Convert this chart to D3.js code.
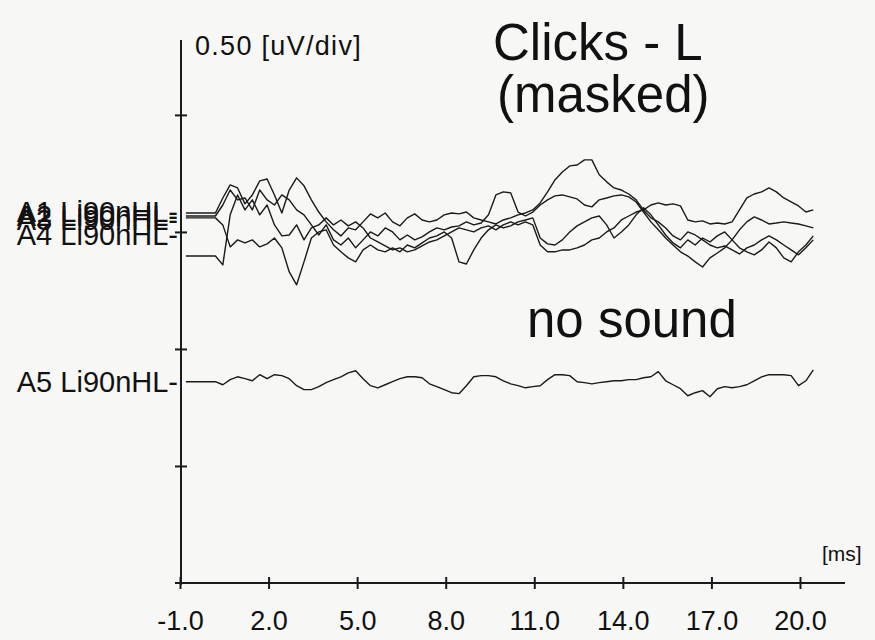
<!DOCTYPE html>
<html><head><meta charset="utf-8">
<script src="https://cdn.jsdelivr.net/npm/d3@7"></script>
<style>
body{margin:0;background:#f7f7f5;}
svg{display:block;}
text{font-family:"Liberation Sans",Arial,sans-serif;fill:#111;}
</style>
</head><body>
<svg id="chart" width="875" height="640"></svg>
<script>
// ---- data ----
const timeMs = [-0.8,-0.55,-0.3,-0.05,0.2,0.45,0.7,0.95,1.2,1.45,1.7,1.95,2.2,2.45,2.7,2.95,3.2,3.45,3.7,3.95,4.2,4.45,4.7,4.95,5.2,5.45,5.7,5.95,6.2,6.45,6.7,6.95,7.2,7.45,7.7,7.95,8.2,8.45,8.7,8.95,9.2,9.45,9.7,9.95,10.2,10.45,10.7,10.95,11.2,11.45,11.7,11.95,12.2,12.45,12.7,12.95,13.2,13.45,13.7,13.95,14.2,14.45,14.7,14.95,15.2,15.45,15.7,15.95,16.2,16.45,16.7,16.95,17.2,17.45,17.7,17.95,18.2,18.45,18.7,18.95,19.2,19.45,19.7,19.95,20.2,20.45];

const traceA1 = [0.081,0.081,0.081,0.081,0.081,0.145,0.201,0.188,0.120,0.158,0.218,0.226,0.158,0.081,0.179,0.231,0.197,0.137,0.085,0.043,0.009,-0.017,0.017,0.009,0.043,0.077,0.060,0.081,0.043,0.026,0.060,0.077,0.051,0.043,0.051,0.073,0.081,0.077,0.085,0.060,0.051,0.043,0.034,0.051,0.060,0.073,0.081,0.094,0.124,0.171,0.222,0.256,0.282,0.286,0.308,0.308,0.244,0.214,0.188,0.179,0.162,0.137,0.094,0.115,0.124,0.115,0.120,0.111,0.051,0.043,0.047,0.034,0.038,0.034,0.043,0.094,0.145,0.162,0.171,0.188,0.171,0.145,0.128,0.111,0.085,0.094];

const traceA2 = [0.068,0.068,0.068,0.068,0.068,0.115,0.179,0.137,0.145,0.094,0.179,0.137,0.115,0.158,0.137,0.094,0.073,0.030,-0.013,0.030,-0.034,-0.056,-0.026,-0.068,-0.034,0,-0.017,0.017,0,-0.034,-0.013,-0.034,-0.021,0,0.017,0.009,0.021,0.026,0.043,0.030,0.038,0.073,0.158,0.171,0.167,0.085,0.068,0.085,0.115,0.137,0.154,0.158,0.150,0.141,0.115,0.107,0.137,0.145,0.154,0.158,0.150,0.128,0.085,0.043,0.009,-0.026,-0.056,-0.085,-0.103,-0.128,-0.150,-0.111,-0.090,-0.068,-0.034,0.009,0.043,0.064,0.051,0.034,0.038,0.043,0.038,0.034,0.026,0.017];

const traceA3 = [0.060,0.060,0.060,0.060,0.060,0.030,-0.064,-0.034,-0.047,-0.034,-0.064,-0.051,-0.026,-0.068,-0.171,-0.226,-0.128,-0.026,0,0.009,-0.056,-0.085,-0.111,-0.128,-0.077,-0.056,-0.077,-0.085,-0.068,-0.085,-0.056,-0.068,-0.047,-0.026,-0.017,0,-0.026,-0.128,-0.137,-0.077,-0.026,0.009,0.030,0.017,0.026,0.043,0.051,0.060,-0.026,-0.051,-0.056,-0.034,0,0.026,0.043,0.060,0.068,0.030,-0.026,0,0.030,0.073,0.103,0.073,0.030,-0.013,-0.047,-0.068,-0.034,-0.056,-0.026,-0.043,-0.017,0,-0.034,-0.068,-0.085,-0.098,-0.077,-0.043,-0.068,-0.111,-0.128,-0.085,-0.056,-0.017];

const traceA4 = [-0.103,-0.103,-0.103,-0.103,-0.103,-0.141,0.073,0.158,0.094,0.137,0.073,0.115,0.030,-0.017,-0.013,0.030,-0.034,0.017,0.030,0.060,0.030,0.051,0.026,0.043,0.017,-0.026,-0.043,-0.060,-0.077,-0.068,-0.085,-0.077,-0.060,-0.043,-0.034,-0.017,0,0.017,0.009,0,0.017,0.026,0.009,0.030,0.043,0.030,0.043,0.030,-0.056,-0.085,-0.085,-0.077,-0.077,-0.068,-0.056,-0.034,-0.026,0,0.017,0.051,0.068,0.085,0.094,0.060,0.043,0.017,-0.017,-0.034,0,-0.013,-0.034,-0.056,-0.068,-0.060,-0.077,-0.094,-0.068,-0.056,-0.034,-0.017,-0.034,-0.056,-0.077,-0.098,-0.068,-0.034];

const traceA5 = [0,0,0,0,0,-0.013,0.009,0.021,0.013,0.004,0.030,0.013,0.030,0.026,0.013,-0.017,-0.034,-0.034,-0.021,-0.004,0.009,0.021,0.038,0.047,0.013,-0.017,-0.026,-0.013,0,0.013,0.021,0.021,0.017,-0.009,-0.021,-0.034,-0.047,-0.051,-0.017,0.021,0.026,0.026,0.021,0.004,-0.009,-0.017,-0.026,-0.021,-0.017,0.009,0.030,0.030,0.026,0,-0.004,-0.009,-0.004,0,0.004,0.004,0.009,0.009,0.017,0.021,0.043,0.004,-0.013,-0.030,-0.060,-0.047,-0.038,-0.064,-0.030,-0.021,-0.026,-0.021,-0.013,0.004,0.021,0.030,0.030,0.030,0.026,-0.017,0.004,0.051];

const traceNames = ["A1 Li90nHL-","A2 Li90nHL-","A3 Li90nHL-","A4 Li90nHL-","A5 Li90nHL-"];
const traceBaseUV = [1.5,1.5,1.5,1.5,0.86];
const labelBaseUV = [1.585,1.57,1.55,1.485,0.86];
const xTickValues = [-1,2,5,8,11,14,17,20];
const yTickValues = [0.5,1.0,1.5,2.0];
const yScaleLabel = "0.50 [uV/div]";
const xUnitLabel = "[ms]";
const titleLines = ["Clicks - L","(masked)"];
const noteText = "no sound";

// ---- drawing ----
const svg = d3.select("#chart");
const x = d3.scaleLinear().domain([-1,20]).range([180,800]);
const y = d3.scaleLinear().domain([0,2.32]).range([583,40]);
const ink = "#1a1a1a";

// y axis
svg.append("line").attr("x1",181).attr("x2",181).attr("y1",y(2.32)).attr("y2",y(0)+2)
  .attr("stroke",ink).attr("stroke-width",2);
const yAx = svg.append("g").attr("transform","translate(181,0)")
  .call(d3.axisLeft(y).tickValues(yTickValues).tickSize(6).tickFormat(""));
yAx.select(".domain").remove();
yAx.selectAll(".tick line").attr("x1",-6).attr("x2",6).attr("stroke",ink).attr("stroke-width",2);

// x axis
svg.append("line").attr("x1",175).attr("x2",845).attr("y1",583).attr("y2",583)
  .attr("stroke",ink).attr("stroke-width",2);
const xAx = svg.append("g").attr("transform","translate(0,583)")
  .call(d3.axisBottom(x).tickValues(xTickValues).tickSize(6).tickPadding(22).tickFormat(d=>d.toFixed(1)));
xAx.select(".domain").remove();
xAx.selectAll(".tick line").attr("y1",-6).attr("y2",6).attr("stroke",ink).attr("stroke-width",2);
xAx.selectAll(".tick text").attr("font-size",27).attr("fill","#111")
  .attr("font-family","'Liberation Sans',Arial,sans-serif");

// traces
const traces = [traceA1,traceA2,traceA3,traceA4,traceA5];
const line = d3.line().x((d,i)=>x(timeMs[i])).y(d=>d);
traces.forEach((vals,k)=>{
  const pts = vals.map(v=>y(traceBaseUV[k]+v));
  svg.append("path").attr("d",line(pts)).attr("fill","none")
    .attr("stroke",ink).attr("stroke-width",1.4).attr("stroke-linejoin","round");
});

// trace labels
traceNames.forEach((nm,k)=>{
  svg.append("text").attr("x",178).attr("y",y(labelBaseUV[k])+10)
    .attr("text-anchor","end").attr("font-size",29).text(nm);
});

// texts
svg.append("text").attr("x",195).attr("y",55).attr("font-size",27)
  .attr("letter-spacing",1.3).text(yScaleLabel);
svg.append("text").attr("x",822).attr("y",561).attr("font-size",21).text(xUnitLabel);
svg.append("text").attr("x",493).attr("y",60).attr("font-size",51).text(titleLines[0]);
svg.append("text").attr("x",497).attr("y",112).attr("font-size",51).text(titleLines[1]);
svg.append("text").attr("x",527).attr("y",337).attr("font-size",51).text(noteText);
</script>
</body></html>
